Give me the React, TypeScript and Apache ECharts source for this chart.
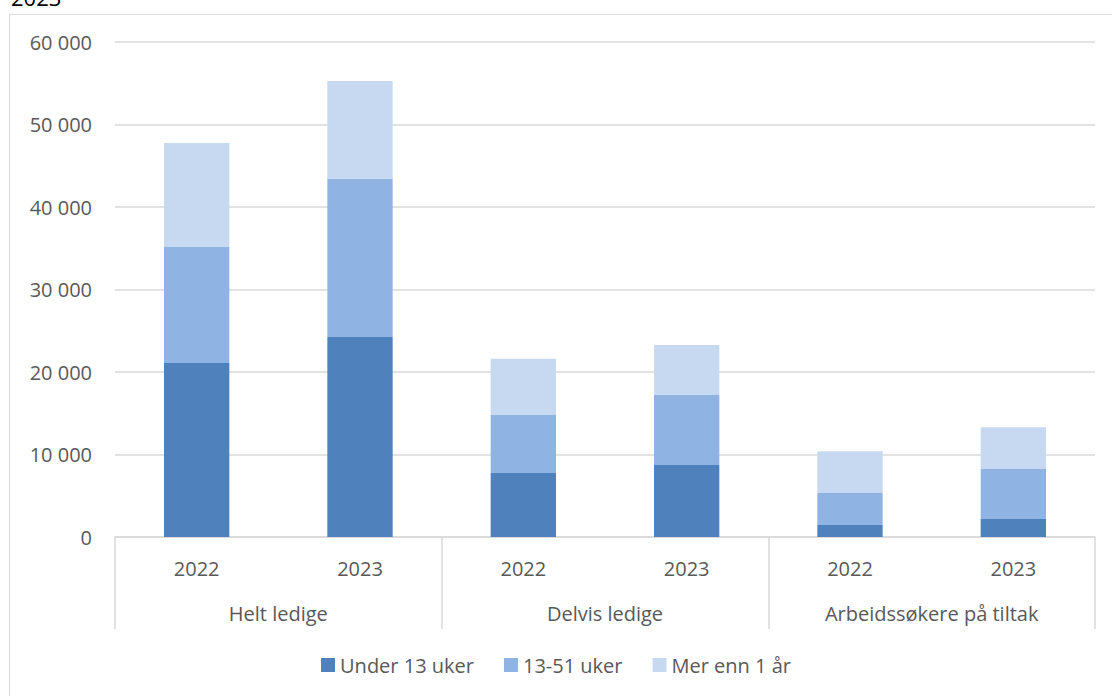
import React, { useEffect, useRef } from "react";
import * as echarts from "echarts";

const years = ["2022", "2023", "2022", "2023", "2022", "2023"];
const groups = ["Helt ledige", "Delvis ledige", "Arbeidssøkere på tiltak"];
const seriesNames = ["Under 13 uker", "13-51 uker", "Mer enn 1 år"];
const under13 = [21100, 24250, 7750, 8730, 1450, 2180];
const weeks13to51 = [14050, 19150, 7050, 8470, 3880, 6060];
const over1year = [12600, 11870, 6800, 6070, 5070, 5060];
const colors = ["#4f81bd", "#8fb4e3", "#c6d9f1"];
const yTicks = [0, 10000, 20000, 30000, 40000, 50000, 60000];

const FONT = "'Open Sans', sans-serif";
const TXT = "#595959";
const GRID = "#d9d9d9";

export default function App() {
  const ref = useRef<HTMLDivElement>(null);
  useEffect(() => {
    document.body.style.margin = "0";
    const chart = echarts.init(ref.current!, null, { renderer: "svg" });
    const fmt = (v: number) => String(v).replace(/\B(?=(\d{3})+(?!\d))/g, " ");
    chart.setOption({
      animation: false,
      textStyle: { fontFamily: FONT },
      graphic: [
        {
          type: "rect",
          shape: { x: 9.5, y: 14.5, width: 1200, height: 800 },
          style: { fill: "none", stroke: GRID, lineWidth: 1 },
          silent: true,
        },
        {
          type: "text",
          left: 11,
          top: -14,
          style: { text: "2023", fontSize: 22, fill: "#000", fontFamily: FONT, fontWeight: "normal" },
        },
      ],
      grid: { left: 115, right: 17, top: 42, bottom: 159 },
      legend: {
        top: 650,
        left: "center",
        itemWidth: 14,
        itemHeight: 14,
        itemGap: 30,
        icon: "rect",
        textStyle: { color: TXT, fontSize: 20, fontFamily: FONT },
        data: seriesNames,
      },
      xAxis: [
        {
          type: "category",
          data: years,
          position: "bottom",
          axisLine: { lineStyle: { color: GRID, width: 1.5 } },
          axisTick: { show: false },
          axisLabel: { color: TXT, fontSize: 20, margin: 21, fontFamily: FONT },
        },
        {
          type: "category",
          data: groups,
          position: "bottom",
          axisLine: { show: false },
          axisTick: { show: true, length: 92, lineStyle: { color: GRID, width: 1.5 } },
          axisLabel: { color: TXT, fontSize: 20, margin: 66, fontFamily: FONT },
        },
      ],
      yAxis: {
        type: "value",
        min: yTicks[0],
        max: yTicks[yTicks.length - 1],
        interval: 10000,
        axisLine: { show: false },
        axisTick: { show: false },
        splitLine: { lineStyle: { color: GRID, width: 1.5 } },
        axisLabel: { color: TXT, fontSize: 20, margin: 23, formatter: fmt, fontFamily: FONT },
      },
      series: [under13, weeks13to51, over1year].map((d, i) => ({
        name: seriesNames[i],
        type: "bar",
        stack: "total",
        xAxisIndex: 0,
        barWidth: "40%",
        itemStyle: { color: colors[i] },
        data: d,
      })),
    });
    return () => chart.dispose();
  }, []);
  return <div ref={ref} style={{ width: 1112, height: 696 }} />;
}
